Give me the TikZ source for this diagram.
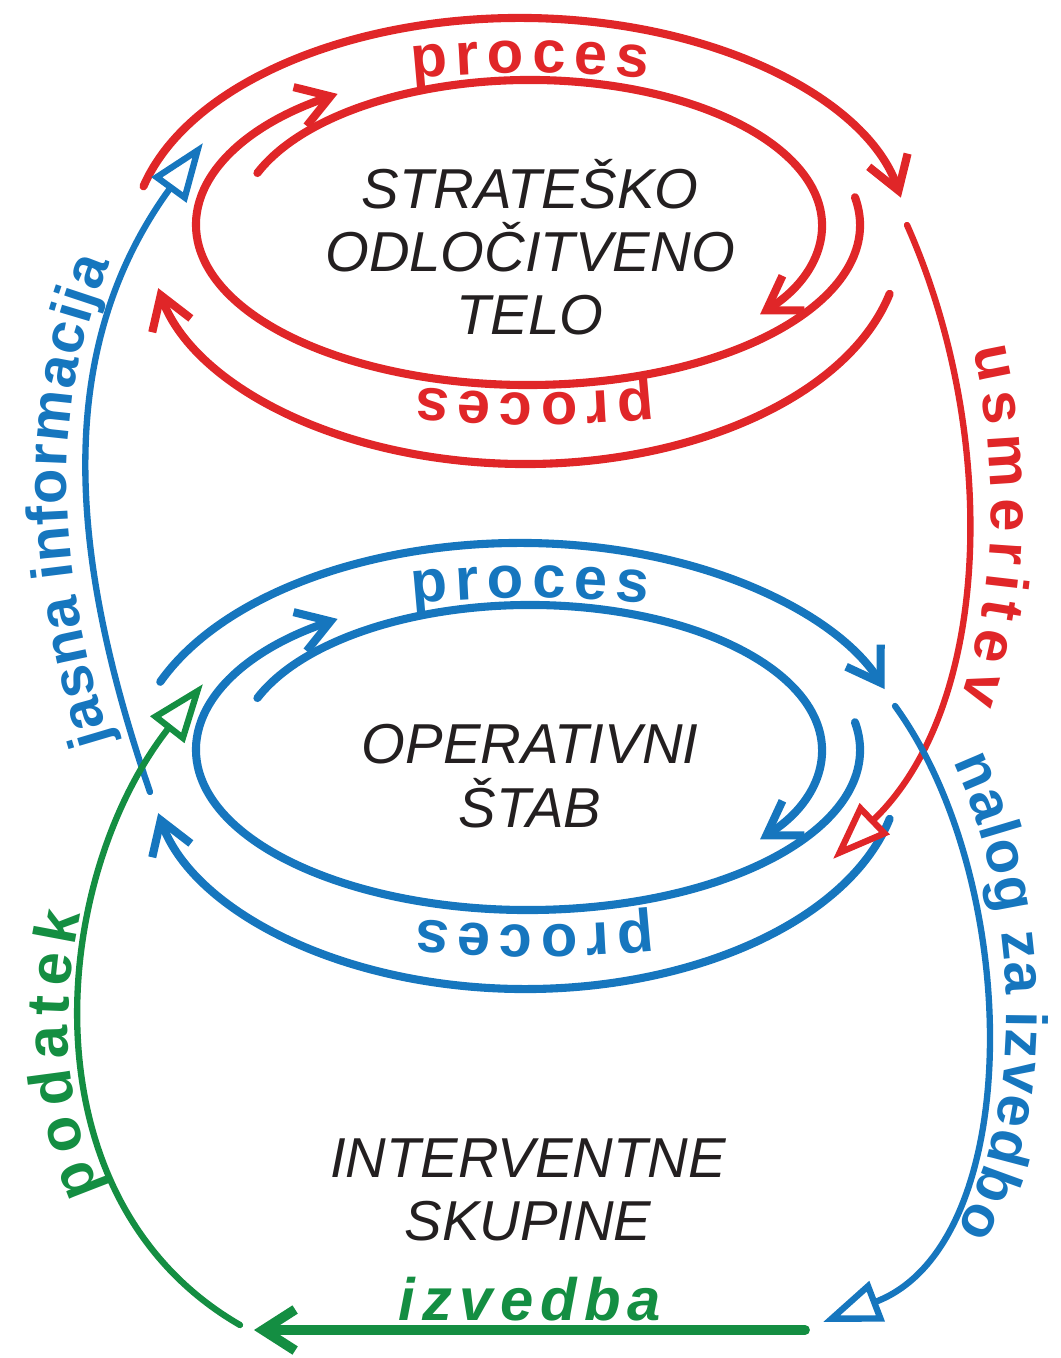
\documentclass[tikz,border=0pt]{standalone}
\usepackage{fontspec}
\setmainfont{Liberation Sans}
\newfontfamily\widefam[LetterSpace=12]{Liberation Sans}
\usetikzlibrary{arrows.meta, calc, decorations.text}

\definecolor{ringred}{RGB}{224,38,40}
\definecolor{ringblue}{RGB}{22,118,190}
\definecolor{flowgreen}{RGB}{20,142,66}
\definecolor{unitgray}{RGB}{35,31,32}

\newcommand\widelbl{\fontsize{17}{20}\selectfont\widefam\bfseries}
\newcommand\spacedlbl{\fontsize{17}{20}\selectfont\bfseries\spaceskip=2.2pt}
\newcommand\tightlbl{\fontsize{16.5}{20}\selectfont\bfseries}

\begin{document}
\begin{tikzpicture}[
        x = 0.01cm, y = 0.01cm, % one unit = one pixel of the sketch
        > = {Straight Barb[length=3.2mm, width=4.1mm]}, % open barb on the rings
        line cap = round
    ]

    \tikzstyle{ringarc}=[line width = 2.3pt, ->]
    \tikzstyle{flow}=[
        line width = 1.8pt,
        -{Triangle[open, length=5.8mm, width=4.2mm]},
        postaction = decorate
    ]
    \tikzstyle{bodytext}=[
        text = unitgray,
        align = center,
        font = \fontsize{16}{18}\selectfont\itshape
    ]

    \useasboundingbox (0,0) rectangle (1061,-1358);

    % the three bodies
    \node[bodytext] (sot) at (530,-247) {STRATEŠKO\\ODLOČITVENO\\TELO};
    \node[bodytext] (ops) at (530,-776) {OPERATIVNI\\ŠTAB};
    \node[bodytext] (int) at (528,-1190) {INTERVENTNE\\SKUPINE};

    % ring centres
    \coordinate (sotring) at (530,-235);
    \coordinate (opsring) at (530,-760);

    % strategic ring
    \begin{scope}[shift = {(sotring)}, ringred]
        \draw[ringarc] ([shift={(-10,-5)}]166:388 and 222) arc[start angle=166, end angle=11, x radius=388, y radius=222];
        \draw[ringarc] ([shift={(0,10)}]159:292 and 145) arc[start angle=159, end angle=-38, x radius=292, y radius=145];
        \draw[ringarc] ([shift={(-2,10)}]10:332 and 160) arc[start angle=10, end angle=-235, x radius=332, y radius=160];
        \draw[ringarc] ([shift={(-5,-7)}]-13.5:375 and 222) arc[start angle=-13.5, end angle=-168, x radius=375, y radius=222];
        \path[decorate, decoration={text along path, text align=center, text color=ringred,
                text={|\spacedlbl|p r o c e s}}]
            ([shift={(0,10)}]125:420 and 152) arc[start angle=125, end angle=55, x radius=420, y radius=152];
        \path[decorate, decoration={text along path, text align=center, text color=ringred,
                text={|\spacedlbl|p r o c e s}}]
            ([shift={(5,-5)}]-55:420 and 153) arc[start angle=-55, end angle=-125, x radius=420, y radius=153];
    \end{scope}

    % operative ring
    \begin{scope}[shift = {(opsring)}, ringblue]
        \draw[ringarc] ([shift={(-10,-5)}]158:388 and 222) arc[start angle=158, end angle=20, x radius=388, y radius=222];
        \draw[ringarc] ([shift={(0,10)}]159:292 and 145) arc[start angle=159, end angle=-38, x radius=292, y radius=145];
        \draw[ringarc] ([shift={(-2,10)}]10:332 and 160) arc[start angle=10, end angle=-235, x radius=332, y radius=160];
        \draw[ringarc] ([shift={(-5,-7)}]-13.5:375 and 222) arc[start angle=-13.5, end angle=-168, x radius=375, y radius=222];
        \path[decorate, decoration={text along path, text align=center, text color=ringblue,
                text={|\spacedlbl|p r o c e s}}]
            ([shift={(0,10)}]125:420 and 152) arc[start angle=125, end angle=55, x radius=420, y radius=152];
        \path[decorate, decoration={text along path, text align=center, text color=ringblue,
                text={|\spacedlbl|p r o c e s}}]
            ([shift={(5,-12)}]-55:420 and 153) arc[start angle=-55, end angle=-125, x radius=420, y radius=153];
    \end{scope}

    % free ends of the links
    \coordinate (jasna-s) at (150,-792);
    \coordinate (jasna-e) at (203,-143);
    \coordinate (usm-s) at (907,-225);
    \coordinate (usm-e) at (833,-859);
    \coordinate (nalog-s) at (895,-706);
    \coordinate (nalog-e) at (823,-1322);
    \coordinate (izv-s) at (805,-1330);
    \coordinate (izv-e) at (254,-1330);
    \coordinate (pod-s) at (240,-1325);
    \coordinate (pod-e) at (203,-684);

    % links between the bodies
    \draw[flow, ringblue, decoration={text along path, text align={left indent=6mm}, raise=2.2mm,
            text color=ringblue, text={|\tightlbl|jasna informacija}}]
        (jasna-s) to[out=109, in=234] (jasna-e);
    \draw[flow, ringred, decoration={text along path, text align={left indent=13.5mm}, raise=2.4mm,
            text color=ringred, text={|\spacedlbl|u s m e r i t e v}}]
        (usm-s) to[out=-66, in=44, looseness=0.9] (usm-e);
    \draw[flow, ringblue, decoration={text along path, text align={left indent=7.5mm}, raise=2.2mm,
            text color=ringblue, text={|\tightlbl|nalog za izvedbo}}]
        (nalog-s) to[out=-54, in=21, looseness=0.9] (nalog-e);
    \draw[flow, flowgreen, decoration={text along path, text align={left indent=19mm}, raise=1.4mm,
            text color=flowgreen, text={|\spacedlbl|p o d a t e k}}]
        (pod-s) to[out=150, in=232] (pod-e);
    \draw[flowgreen, line width=2.8pt, ->] (izv-s) -- (izv-e);
    \node[text=flowgreen, anchor=base, font=\widelbl\itshape] (izv) at (530,-1320) {izvedba};
\end{tikzpicture}
\end{document}
